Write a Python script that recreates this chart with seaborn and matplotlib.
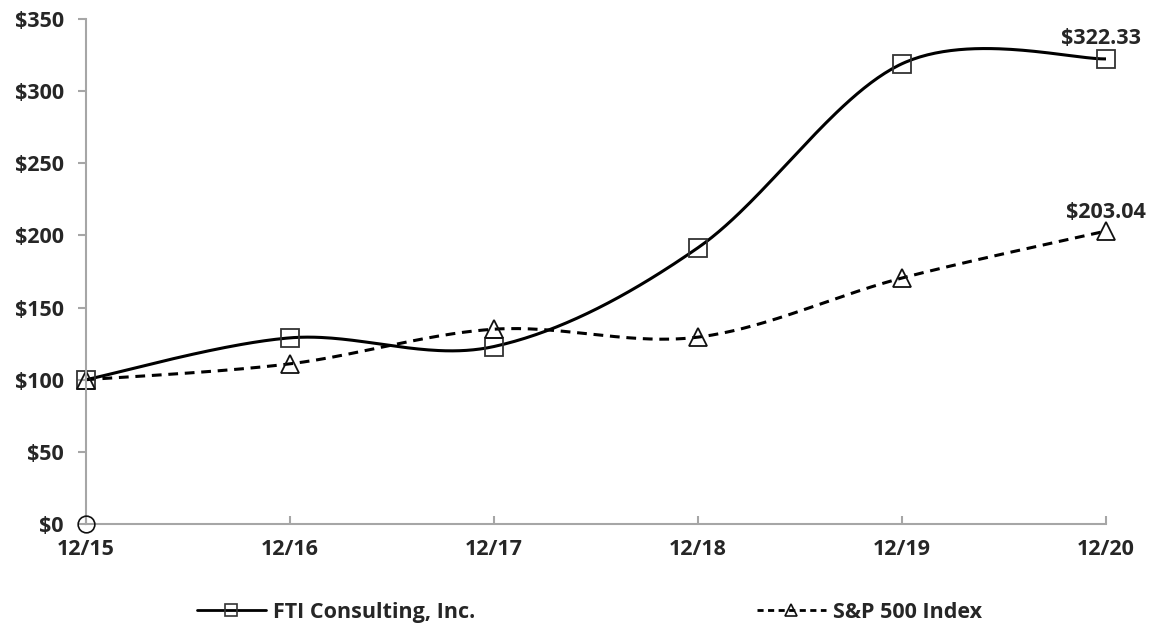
import numpy as np
import pandas as pd
import seaborn as sns
import matplotlib.pyplot as plt
from matplotlib.lines import Line2D

# ---------- DATA ----------
years = ["12/15", "12/16", "12/17", "12/18", "12/19", "12/20"]
fti = [100, 129, 123, 191.5, 319, 322.33]
sp500 = [100, 111, 135, 129.5, 170.5, 203.04]
fti_name = "FTI Consulting, Inc."
sp_name = "S&P 500 Index"
y_ticks = [0, 50, 100, 150, 200, 250, 300, 350]


# ---------- SMOOTHING (Excel-style bezier through points) ----------
def smooth(ys, n=60):
    pts = np.column_stack([np.arange(len(ys)), ys]).astype(float)
    ext = np.vstack([pts[0], pts, pts[-1]])
    out = []
    for i in range(len(pts) - 1):
        p0, p3 = pts[i], pts[i + 1]
        c1 = p0 + (ext[i + 2] - ext[i]) / 6
        c2 = p3 - (ext[i + 3] - ext[i + 1]) / 6
        t = np.linspace(0, 1, n)[:, None]
        seg = ((1 - t) ** 3) * p0 + 3 * ((1 - t) ** 2) * t * c1 + 3 * (1 - t) * t ** 2 * c2 + t ** 3 * p3
        out.append(seg if i == 0 else seg[1:])
    seg = np.vstack(out)
    return pd.DataFrame({"x": seg[:, 0], "y": seg[:, 1]})


# ---------- PLOT ----------
sns.set_style("white")
plt.rcParams["font.family"] = ["Open Sans", "DejaVu Sans"]
plt.rcParams["font.weight"] = "bold"
TXT = "#262626"
FS = 15.5

fig = plt.figure(figsize=(11.51, 6.32), dpi=100)
ax = fig.add_axes([0.0747, 0.1709, 0.8863, 0.7991])

sns.lineplot(data=smooth(fti), x="x", y="y", ax=ax, color="black", lw=2.2, sort=False)
sns.lineplot(data=smooth(sp500), x="x", y="y", ax=ax, color="black", lw=2.2,
             linestyle=(0, (3.2, 2.2)), sort=False)

xs = np.arange(len(years))
ax.plot(xs, fti, ls="none", marker="s", ms=13, mfc="none", mec="#333333", mew=1.3, clip_on=False)
ax.plot(xs, sp500, ls="none", marker="^", ms=13, mfc="none", mec="#111111", mew=1.3, clip_on=False)
ax.plot([0], [0], ls="none", marker="o", ms=12, mfc="none", mec="#111111", mew=1.2, clip_on=False, zorder=5)

ax.annotate(f"${fti[-1]:.2f}", (xs[-1], fti[-1]), xytext=(-4, 7), textcoords="offset points",
            ha="center", va="bottom", fontsize=FS, fontweight="bold", color=TXT)
ax.annotate(f"${sp500[-1]:.2f}", (xs[-1], sp500[-1]), xytext=(0, 6), textcoords="offset points",
            ha="center", va="bottom", fontsize=FS, fontweight="bold", color=TXT)

ax.set_xlim(0, len(years) - 1)
ax.set_ylim(0, 350)
ax.set_xticks(xs)
ax.set_xticklabels(years, fontsize=FS, fontweight="bold", color=TXT)
ax.set_yticks(y_ticks)
ax.set_yticklabels([f"${v}" for v in y_ticks], fontsize=FS, fontweight="bold", color=TXT)
ax.set_xlabel("")
ax.set_ylabel("")

for side in ["top", "right"]:
    ax.spines[side].set_visible(False)
for side in ["left", "bottom"]:
    ax.spines[side].set_color("#a6a6a6")
    ax.spines[side].set_linewidth(1.5)
ax.tick_params(axis="y", direction="out", length=6, width=1.5, color="#a6a6a6", pad=10, left=True)
ax.tick_params(axis="x", direction="in", length=6, width=1.5, color="#a6a6a6", pad=11, bottom=True)

# ---------- LEGEND ----------
handles = [
    Line2D([], [], color="black", lw=2, marker="s", ms=9, mfc="none", mec="#333333", mew=1.2),
    Line2D([], [], color="black", lw=2, ls=(0, (2.2, 1.6)), marker="^", ms=9, mfc="none", mec="#111111", mew=1.2),
]
fig.legend(handles, [fti_name, sp_name], loc="lower center", bbox_to_anchor=(0.512, -0.016),
           ncol=2, frameon=False, columnspacing=13.1, handlelength=3.2,
           handletextpad=0.33, prop={"family": ["Open Sans", "DejaVu Sans"], "weight": "bold", "size": FS})

fig.savefig("out.png", dpi=100)
